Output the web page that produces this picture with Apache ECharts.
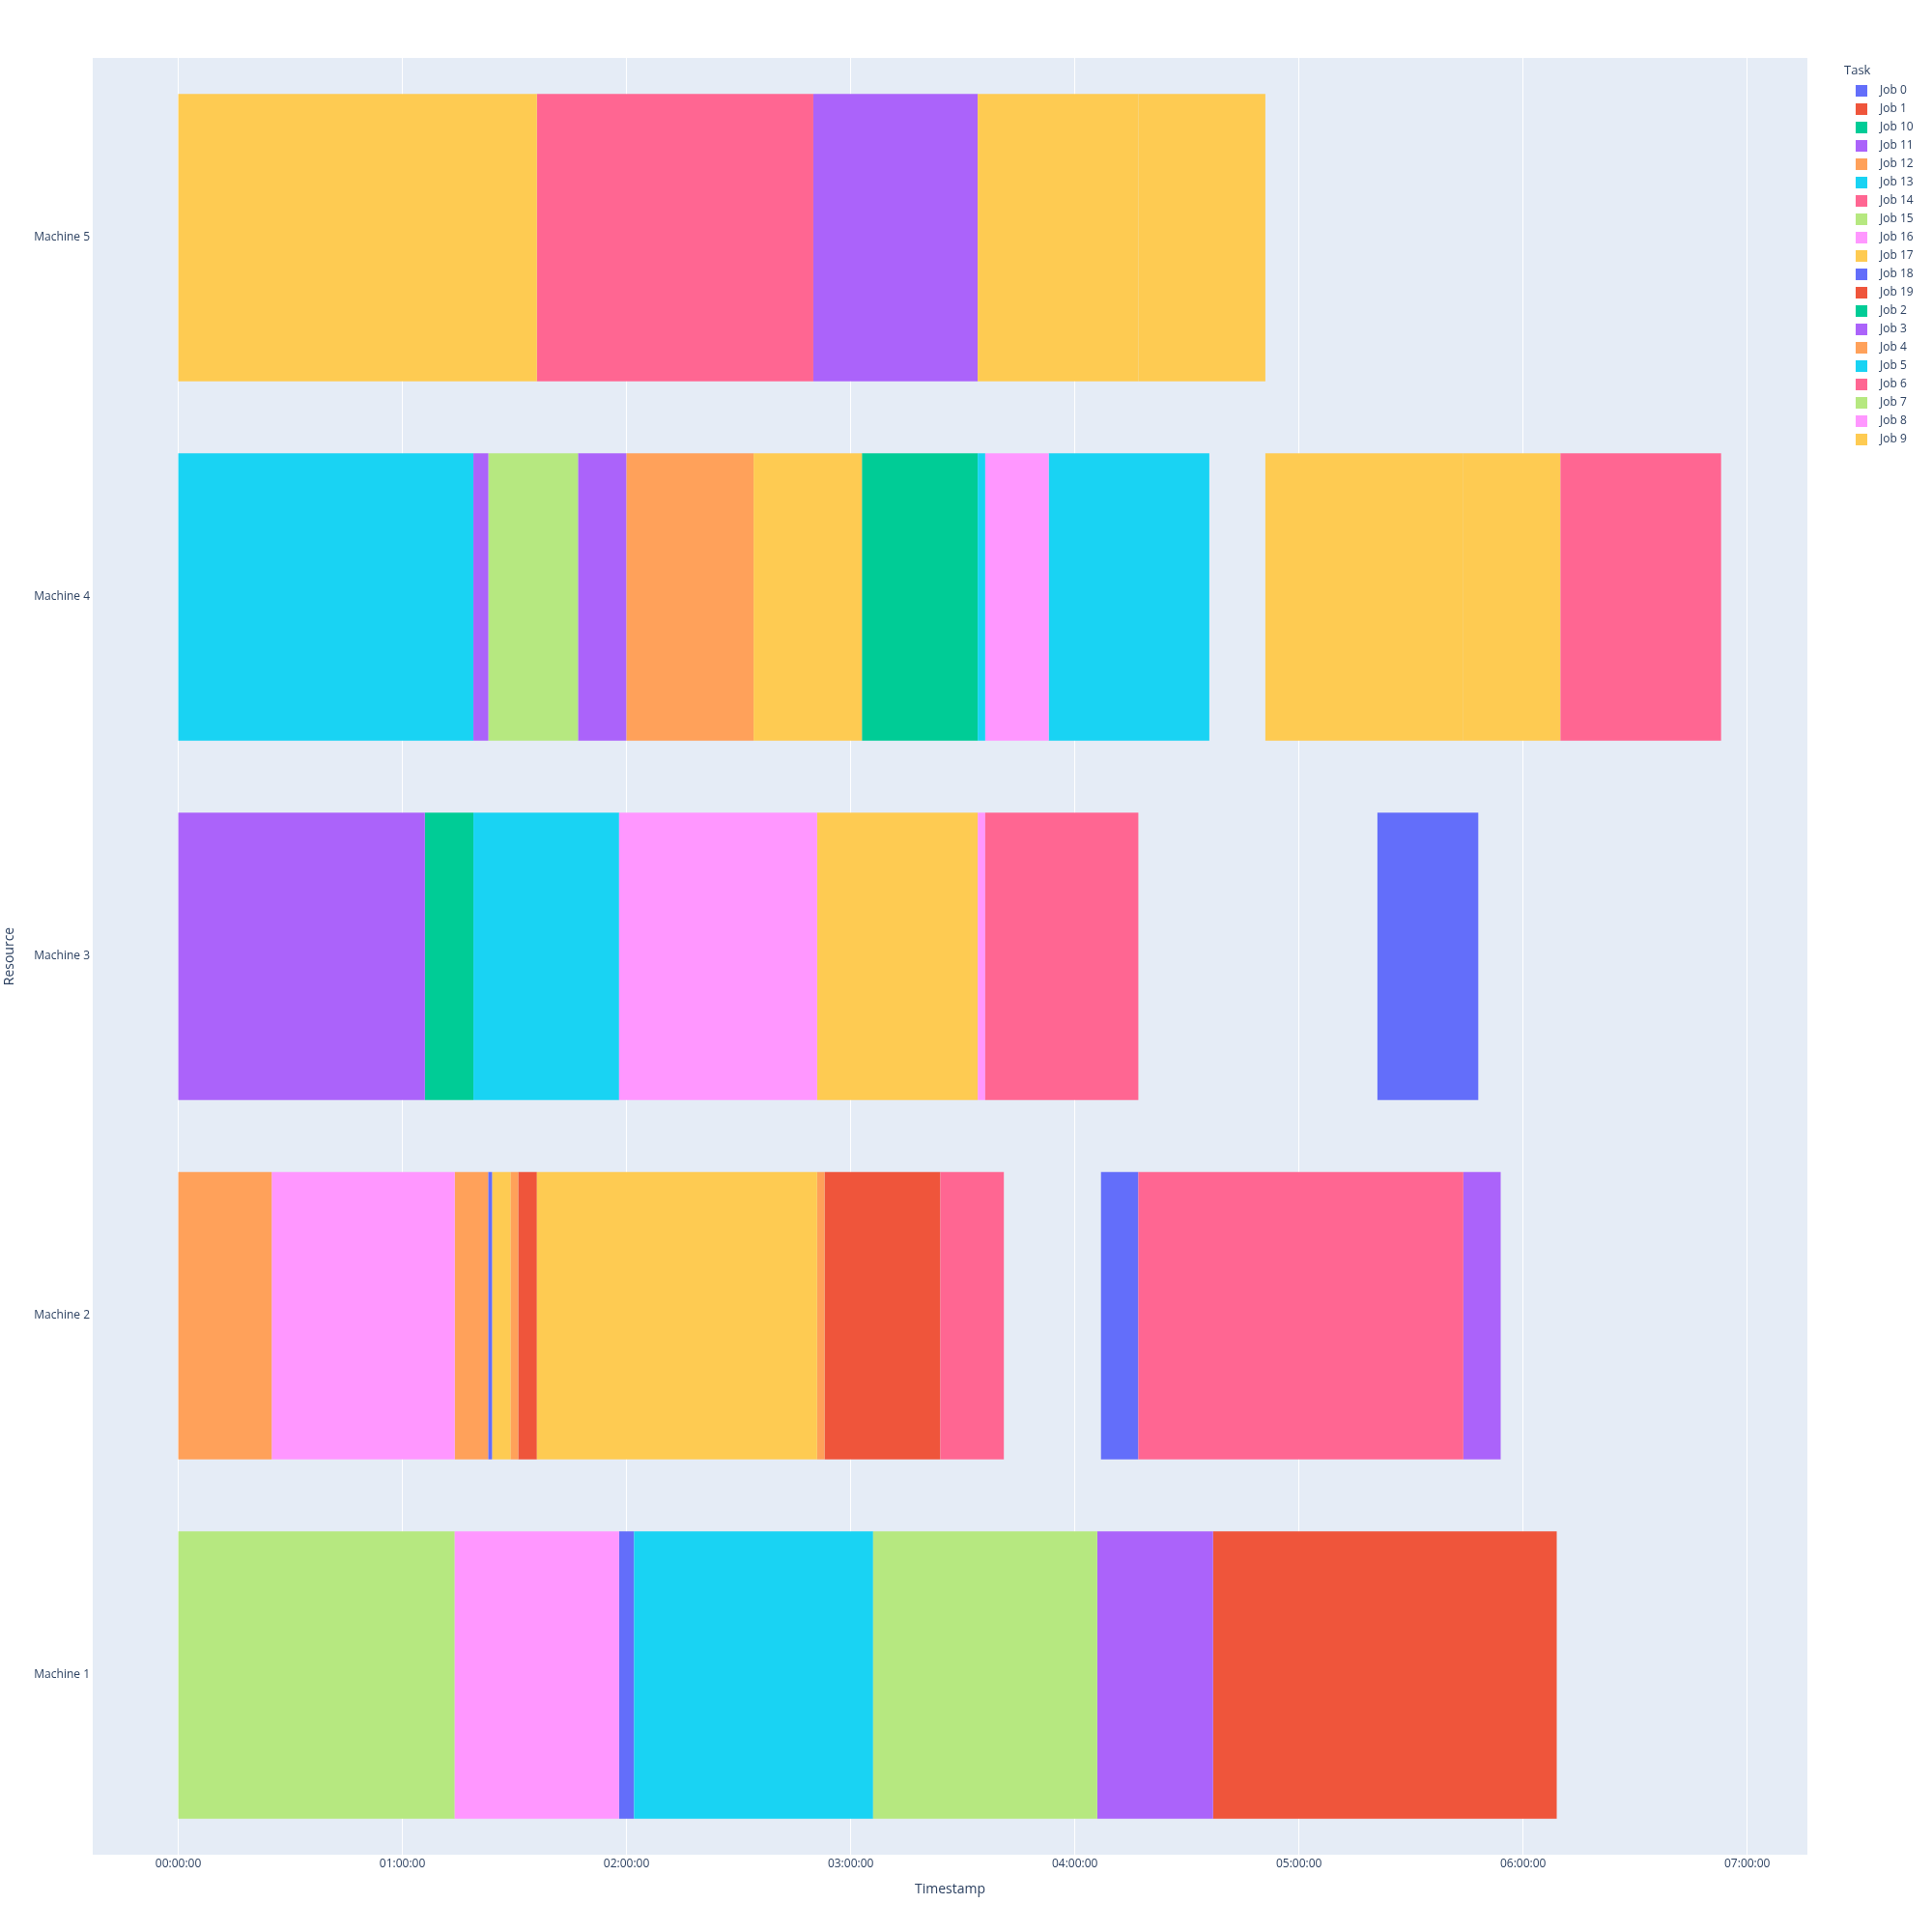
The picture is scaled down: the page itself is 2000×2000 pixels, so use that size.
<!DOCTYPE html>
<html><head><meta charset="utf-8">
<script src="https://cdn.jsdelivr.net/npm/echarts@6/dist/echarts.min.js"></script>
<style>html,body{margin:0;padding:0;background:#fff}#c{width:2000px;height:2000px}</style>
</head><body><div id="c"></div>
<script>
// Categories (bottom to top)
const resources = ['Machine 1','Machine 2','Machine 3','Machine 4','Machine 5'];
// Legend order
const jobs = ['Job 0','Job 1','Job 10','Job 11','Job 12','Job 13','Job 14','Job 15','Job 16','Job 17',
              'Job 18','Job 19','Job 2','Job 3','Job 4','Job 5','Job 6','Job 7','Job 8','Job 9'];
const jobColors = ['#636EFA','#EF553B','#00CC96','#AB63FA','#FFA15A','#19D3F3','#FF6692','#B6E880','#FF97FF','#FECB52',
                   '#636EFA','#EF553B','#00CC96','#AB63FA','#FFA15A','#19D3F3','#FF6692','#B6E880','#FF97FF','#FECB52'];
// Tasks (times in minutes from 00:00:00)
const taskResource = [
  'Machine 1','Machine 1','Machine 1','Machine 1','Machine 1','Machine 1','Machine 1',
  'Machine 2','Machine 2','Machine 2','Machine 2','Machine 2','Machine 2','Machine 2','Machine 2','Machine 2','Machine 2','Machine 2','Machine 2','Machine 2','Machine 2',
  'Machine 3','Machine 3','Machine 3','Machine 3','Machine 3','Machine 3','Machine 3','Machine 3',
  'Machine 4','Machine 4','Machine 4','Machine 4','Machine 4','Machine 4','Machine 4','Machine 4','Machine 4','Machine 4','Machine 4','Machine 4','Machine 4',
  'Machine 5','Machine 5','Machine 5','Machine 5','Machine 5'
];
const taskJob = [
  'Job 15','Job 8','Job 0','Job 13','Job 7','Job 3','Job 1',
  'Job 4','Job 16','Job 12','Job 18','Job 17','Job 4','Job 19','Job 9','Job 12','Job 1','Job 14','Job 0','Job 6','Job 11',
  'Job 11','Job 10','Job 5','Job 8','Job 17','Job 16','Job 6','Job 18',
  'Job 13','Job 3','Job 15','Job 11','Job 12','Job 9','Job 2','Job 5','Job 16','Job 13','Job 9','Job 17','Job 6',
  'Job 17','Job 14','Job 3','Job 9','Job 17'
];
const taskStart = [
  0, 74, 118, 122, 186, 246, 277,
  0, 25, 74, 83, 84, 89, 91, 96, 171, 173, 204, 247, 257, 344,
  0, 66, 79, 118, 171, 214, 216, 321,
  0, 79, 83, 107, 120, 154, 183, 214, 216, 233, 291, 344, 370,
  0, 96, 170, 214, 257
];
const taskFinish = [
  74, 118, 122, 186, 246, 277, 369,
  25, 74, 83, 84, 89, 91, 96, 171, 173, 204, 221, 257, 344, 354,
  66, 79, 118, 171, 214, 216, 257, 348,
  79, 83, 107, 120, 154, 183, 214, 216, 233, 276, 344, 370, 413,
  96, 170, 214, 257, 291
];
const xTicks = [0, 60, 120, 180, 240, 300, 360, 420];

function fmt(v) {
  const t = Math.round(v * 60);
  const h = Math.floor(t / 3600), m = Math.floor((t % 3600) / 60), s = t % 60;
  const p = n => String(n).padStart(2, '0');
  return p(h) + ':' + p(m) + ':' + p(s);
}

function renderItem(params, api) {
  const cat = api.value(0);
  const a = api.coord([api.value(1), cat]);
  const b = api.coord([api.value(2), cat]);
  const h = api.size([0, 1])[1] * 0.8;
  const cs = params.coordSys;
  const shape = echarts.graphic.clipRectByRect(
    { x: a[0], y: a[1] - h / 2, width: b[0] - a[0], height: h },
    { x: cs.x, y: cs.y, width: cs.width, height: cs.height });
  return shape && { type: 'rect', shape: shape,
    style: { fill: api.visual('color') } };
}

const series = jobs.map((j, ji) => {
  const data = [];
  for (let i = 0; i < taskJob.length; i++) {
    if (taskJob[i] === j) data.push([resources.indexOf(taskResource[i]), taskStart[i], taskFinish[i]]);
  }
  return { name: j, type: 'custom', renderItem: renderItem, itemStyle: { color: jobColors[ji] },
           encode: { x: [1, 2], y: 0 }, data: data, clip: true };
});

const FONT = "'Open Sans', sans-serif";
const TXT = '#2a3f5f';
const chart = echarts.init(document.getElementById('c'), null, { renderer: 'canvas' });
chart.setOption({
  animation: false,
  backgroundColor: '#fff',
  textStyle: { fontFamily: FONT, color: TXT },
  title: { text: 'Task', left: 1909, top: 67, padding: 0,
           textStyle: { fontFamily: FONT, fontSize: 13, fontWeight: 'normal', color: TXT } },
  legend: {
    orient: 'vertical', left: 1921, top: 88, padding: 0,
    icon: 'rect', itemWidth: 12, itemHeight: 12, itemGap: 7,
    textStyle: { fontFamily: FONT, fontSize: 12, color: TXT, lineHeight: 12, padding: [0, 0, 0, 8] },
    data: jobs
  },
  grid: { left: 96, right: 129, top: 60, bottom: 80, show: true, backgroundColor: '#E5ECF6', borderWidth: 0,
          containLabel: false, outerBoundsMode: 'none' },
  xAxis: {
    type: 'value', min: -22.9, max: 436.1,
    name: 'Timestamp', nameLocation: 'middle', nameGap: 29,
    nameTextStyle: { fontFamily: FONT, fontSize: 14, color: TXT },
    axisLine: { show: false },
    axisTick: { show: false, customValues: xTicks },
    axisLabel: { customValues: xTicks, formatter: fmt, fontFamily: FONT, fontSize: 12, color: TXT, margin: 4 },
    splitLine: { show: true, lineStyle: { color: '#ffffff', width: 1 } }
  },
  yAxis: {
    type: 'category', data: resources,
    name: 'Resource', nameLocation: 'middle', nameGap: 79,
    nameTextStyle: { fontFamily: FONT, fontSize: 14, color: TXT },
    axisLine: { show: false }, axisTick: { show: false },
    axisLabel: { fontFamily: FONT, fontSize: 12, color: TXT, margin: 3 },
    splitLine: { show: false }
  },
  series: series
});
</script></body></html>
